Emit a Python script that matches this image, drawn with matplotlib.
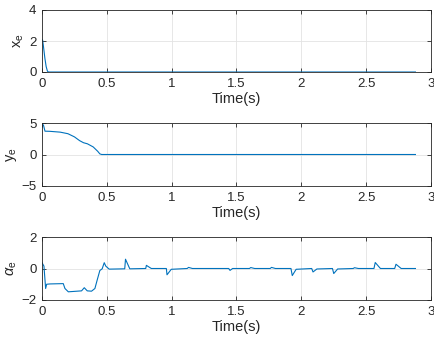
import matplotlib
matplotlib.use("Agg")
from matplotlib import pyplot as plt

# ошибки слежения по положению и углу
t_x = [0, 0.005, 0.012, 0.022, 0.032, 0.042, 0.05, 2.88]
x_e = [2.1, 2.05, 1.6, 0.9, 0.35, 0.05, 0, 0]

t_y = [0, 0.012, 0.023, 0.06, 0.14, 0.2, 0.25, 0.29, 0.32, 0.35, 0.395, 0.43, 0.446, 0.46, 2.88]
y_e = [5.0, 4.6, 3.7, 3.68, 3.55, 3.3, 2.8, 2.2, 1.87, 1.7, 1.2, 0.5, 0.1, 0, 0]

t_a = [0, 0.015, 0.028, 0.036, 0.062, 0.164, 0.177, 0.203, 0.305, 0.326, 0.349, 0.382,
       0.408, 0.426, 0.446, 0.464, 0.48, 0.492, 0.518, 0.638, 0.644, 0.677, 0.8, 0.805,
       0.843, 0.959, 0.964, 0.997, 1.12, 1.13, 1.16, 1.44, 1.45, 1.47, 1.6, 1.61, 1.64,
       1.76, 1.77, 1.8, 1.92, 1.93, 1.96, 2.08, 2.09, 2.12, 2.24, 2.25, 2.28, 2.4, 2.41,
       2.44, 2.56, 2.57, 2.61, 2.72, 2.73, 2.77, 2.88]
a_e = [0.37, 0.15, -1.27, -1.0, -0.98, -0.96, -1.27, -1.48, -1.42, -1.22, -1.42, -1.44,
       -1.27, -0.72, -0.13, -0.02, 0.37, 0.15, -0.04, -0.02, 0.59, -0.02, 0, 0.2,
       0, 0, -0.4, -0.05, 0, 0.07, 0, 0, -0.12, 0, 0, 0.06, 0, 0, 0.07, 0, 0, -0.45,
       -0.05, 0, -0.22, -0.03, 0, -0.32, -0.03, 0, 0.05, 0, 0, 0.38, 0, 0, 0.27, 0, 0]

plt.rcParams["font.family"] = ["Liberation Sans", "DejaVu Sans"]
plt.rcParams["mathtext.fontset"] = "custom"
plt.rcParams["mathtext.rm"] = "Liberation Sans"
plt.rcParams["mathtext.it"] = "Liberation Sans:italic"

fig = plt.figure(figsize=(4.35, 3.43), dpi=100)
W, H = 435, 343
left, width = 42 / W, 389 / W
panels = [
    (t_x, x_e, (0, 4), [0, 2, 4], r"x$_\mathrm{e}$", (10, 72)),
    (t_y, y_e, (-5, 5), [-5, 0, 5], r"y$_\mathrm{e}$", (123, 186)),
    (t_a, a_e, (-2, 2), [-2, 0, 2], r"$\alpha_\mathrm{e}$", (237, 300)),
]

for t, v, ylim, yticks, ylab, (top, bot) in panels:
    ax = fig.add_axes([left, 1 - bot / H, width, (bot - top) / H])
    ax.plot(t, v, color="#0072BD", linewidth=0.8)
    ax.set_xlim(0, 3)
    ax.set_ylim(*ylim)
    ax.set_xticks([0, 0.5, 1, 1.5, 2, 2.5, 3])
    ax.set_xticklabels(["0", "0.5", "1", "1.5", "2", "2.5", "3"])
    ax.set_yticks(yticks)
    ax.grid(True, color="#E3E3E3", linewidth=0.6)
    ax.set_axisbelow(True)
    ax.tick_params(direction="in", top=True, right=True, length=3, width=0.6,
                   labelsize=9.5, colors="#262626", pad=4)
    for s in ax.spines.values():
        s.set_color("#262626")
        s.set_linewidth(0.6)
    ax.set_xlabel("Time(s)", fontsize=10.5, color="#262626", labelpad=2)
    ax.set_ylabel(ylab, fontsize=10.5, color="#262626", labelpad=2)

fig.savefig("out.png", dpi=100)
